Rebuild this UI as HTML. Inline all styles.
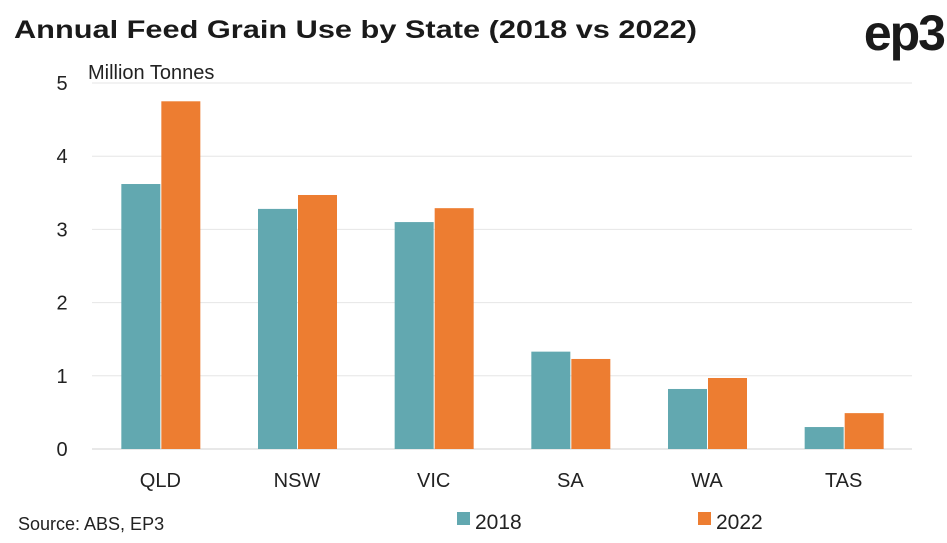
<!DOCTYPE html>
<html><head><meta charset="utf-8"><style>
body{margin:0;background:#fff;width:947px;height:543px;overflow:hidden;font-family:"Liberation Sans",sans-serif}
svg{display:block}
</style></head><body>
<svg width="947" height="543" id="c">
<text x="14" y="38" font-size="25" font-weight="bold" fill="#1a1a1a" textLength="683" lengthAdjust="spacingAndGlyphs">Annual Feed Grain Use by State (2018 vs 2022)</text>
<text x="944" y="50" text-anchor="end" font-size="50" font-weight="bold" fill="#1a1a1a" letter-spacing="-2">ep3</text>
<text x="88" y="79" font-size="20" fill="#222">Million Tonnes</text>
<text x="18" y="530" font-size="18" fill="#222">Source: ABS, EP3</text>
<rect x="457" y="512" width="13" height="13" fill="#62a8b0"/>
<text x="475" y="529" font-size="21" fill="#222">2018</text>
<rect x="698" y="512" width="13" height="13" fill="#ed7d31"/>
<text x="716" y="529" font-size="21" fill="#222">2022</text>
<g id="plot"></g>
</svg>
<script>
const categories=["QLD","NSW","VIC","SA","WA","TAS"];
const values2018=[3.62,3.28,3.10,1.33,0.82,0.30];
const values2022=[4.75,3.47,3.29,1.23,0.97,0.49];
const yTicks=[0,1,2,3,4,5];
const NS="http://www.w3.org/2000/svg";
const g=document.getElementById("plot");
const x0=92,x1=912,yBase=449,yTop=83,yMax=5;
const y=v=>yBase-(v/yMax)*(yBase-yTop);
const band=(x1-x0)/categories.length;
const cx=i=>x0+band*(i+0.5);
function mk(t,a){const e=document.createElementNS(NS,t);for(const k in a)e.setAttribute(k,a[k]);g.appendChild(e);return e;}
yTicks.forEach(t=>{
  const l=mk("line",{x1:x0,x2:x1,y1:y(t),y2:y(t),stroke:t===0?"#d0d0d0":"#e6e6e6","stroke-width":1});
  
  
  const tx=mk("text",{x:62,y:y(t)+7,"font-size":20,fill:"#222","text-anchor":"middle"});
  tx.textContent=t;
  
  
});
const bw=39;
categories.forEach((c,i)=>{
  const b1=mk("rect",{x:cx(i)-bw,y:y(values2018[i]),width:bw,height:yBase-y(values2018[i]),fill:"#62a8b0"});
  
  
  const b2=mk("rect",{x:cx(i)+1,y:y(values2022[i]),width:bw,height:yBase-y(values2022[i]),fill:"#ed7d31"});
  
  
  const t=mk("text",{x:cx(i),y:487,"font-size":20,fill:"#222","text-anchor":"middle"});
  t.textContent=c;
  
  
});
</script>
</body></html>
